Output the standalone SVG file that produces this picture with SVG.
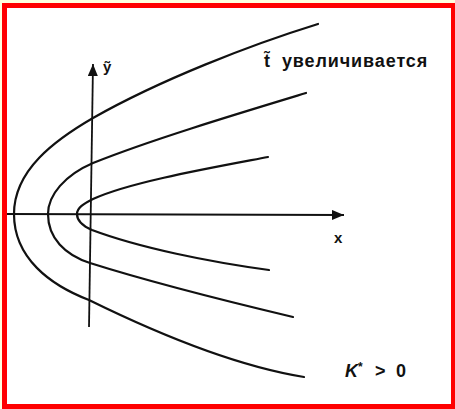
<svg xmlns="http://www.w3.org/2000/svg" width="455" height="409" viewBox="0 0 455 409">
<style>
.c{fill:none;stroke:#111;stroke-width:2.2;stroke-linecap:round}
.ax{fill:none;stroke:#111;stroke-width:1.8}
.t{font-family:"Liberation Sans",Arial,sans-serif;font-weight:bold;fill:#111}
</style>
<defs>
<marker id="ah" viewBox="0 0 12 10" refX="12" refY="5" markerWidth="13" markerHeight="10" markerUnits="userSpaceOnUse" orient="auto">
<path d="M0,0 L12,5 L0,10 Z" fill="#111"/>
</marker>
</defs>
<rect x="0" y="0" width="455" height="409" fill="#ffffe0"/>
<rect x="4.5" y="5.5" width="449" height="401" fill="#fff" stroke="#f00" stroke-width="5"/>
<g id="axes">
<path class="ax" d="M7,214 L344,215" marker-end="url(#ah)"/>
<path class="ax" d="M89,327 L93,64" marker-end="url(#ah)"/>
</g>
<g id="curves">
<path class="c" d="M318,24 C250,45 160,80 93,118 C55,140 14,170 14,214 C14,258 50,285 89,300 C150,330 230,365 304,377"/>
<path class="c" d="M306,93 C240,113 150,140 93,163 C65,175 48,195 48,214 C48,238 65,255 90,263 C150,282 230,302 293,317"/>
<path class="c" d="M268,157 C210,168 130,182 93,199 C83,204 77,208 77,214 C77,222 85,227 92,230 C140,248 210,262 269,270"/>
</g>
<g id="labels">
<text class="t" x="103" y="72" font-size="15">ỹ</text>
<text class="t" x="334" y="243" font-size="15">x</text>
<text class="t" y="67" font-size="18"><tspan x="264">t̃</tspan><tspan x="276" letter-spacing="0.9"> увеличивается</tspan></text>
<text class="t" x="345" y="377" font-size="18"><tspan font-style="italic">K</tspan><tspan dy="-6" font-size="12">*</tspan><tspan dy="6" x="375">&gt;</tspan><tspan x="396">0</tspan></text>
</g>
</svg>
